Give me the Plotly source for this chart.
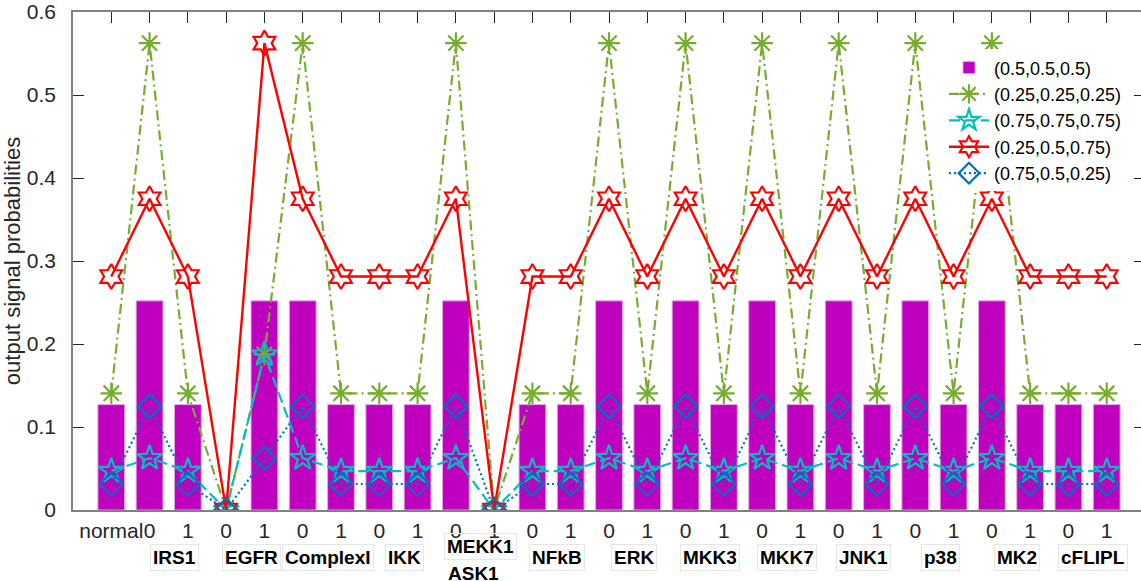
import plotly.graph_objects as go

# ---------------- data ----------------
groups = ["IRS1", "EGFR", "ComplexI", "IKK", "MEKK1<br>ASK1", "NFkB", "ERK",
          "MKK3", "MKK7", "JNK1", "p38", "MK2", "cFLIPL"]
tick_text = ["normal"] + ["0", "1"] * len(groups)
y_ticks = [0, 0.1, 0.2, 0.3, 0.4, 0.5, 0.6]
y_tick_text = ["0", "0.1", "0.2", "0.3", "0.4", "0.5", "0.6"]

bar_05 = [0.127, 0.252, 0.127, 0.0, 0.252, 0.252, 0.127, 0.127, 0.127, 0.252, 0.0,
          0.127, 0.127, 0.252, 0.127, 0.252, 0.127, 0.252, 0.127, 0.252, 0.127,
          0.252, 0.127, 0.252, 0.127, 0.127, 0.127]
s_025 = [0.1406, 0.5625, 0.1406, 0.0, 0.1875, 0.5625, 0.1406, 0.1406, 0.1406, 0.5625, 0.0,
         0.1406, 0.1406, 0.5625, 0.1406, 0.5625, 0.1406, 0.5625, 0.1406, 0.5625, 0.1406,
         0.5625, 0.1406, 0.5625, 0.1406, 0.1406, 0.1406]
s_075 = [0.0469, 0.0625, 0.0469, 0.0, 0.1875, 0.0625, 0.0469, 0.0469, 0.0469, 0.0625, 0.0,
         0.0469, 0.0469, 0.0625, 0.0469, 0.0625, 0.0469, 0.0625, 0.0469, 0.0625, 0.0469,
         0.0625, 0.0469, 0.0625, 0.0469, 0.0469, 0.0469]
s_mix1 = [0.2813, 0.375, 0.2813, 0.0, 0.5625, 0.375, 0.2813, 0.2813, 0.2813, 0.375, 0.0,
          0.2813, 0.2813, 0.375, 0.2813, 0.375, 0.2813, 0.375, 0.2813, 0.375, 0.2813,
          0.375, 0.2813, 0.375, 0.2813, 0.2813, 0.2813]
s_mix2 = [0.0313, 0.125, 0.0313, 0.0, 0.0625, 0.125, 0.0313, 0.0313, 0.0313, 0.125, 0.0,
          0.0313, 0.0313, 0.125, 0.0313, 0.125, 0.0313, 0.125, 0.0313, 0.125, 0.0313,
          0.125, 0.0313, 0.125, 0.0313, 0.0313, 0.0313]

names = ["(0.5,0.5,0.5)", "(0.25,0.25,0.25)", "(0.75,0.75,0.75)",
         "(0.25,0.5,0.75)", "(0.75,0.5,0.25)"]

pos = list(range(1, len(tick_text) + 1))

FONT = "Liberation Sans, Arial, sans-serif"
TXT = "#262626"

fig = go.Figure()
fig.add_trace(go.Bar(x=pos, y=bar_05, width=0.7, name=names[0],
                     marker=dict(color="#BF00BF", line=dict(color="#E6A6E6", width=1))))
fig.add_trace(go.Scatter(x=pos, y=s_025, mode="lines+markers", name=names[1],
                         line=dict(color="#77AC30", width=2.2, dash="10px,4px,2px,4px"),
                         marker=dict(symbol="asterisk-open", size=18,
                                     line=dict(color="#77AC30", width=2.2))))
fig.add_trace(go.Scatter(x=pos, y=s_075, mode="lines+markers", name=names[2],
                         line=dict(color="#00BFBF", width=2.2, dash="11px,5px"),
                         marker=dict(symbol="star-open", size=19, color="#00BFBF",
                                     line=dict(color="#00BFBF", width=2.2))))
fig.add_trace(go.Scatter(x=pos, y=s_mix1, mode="lines+markers", name=names[3],
                         line=dict(color="#FF0000", width=2.4),
                         marker=dict(symbol="hexagram-open", size=19, color="#FF0000",
                                     line=dict(color="#FF0000", width=2.2))))
fig.add_trace(go.Scatter(x=pos, y=s_mix2, mode="lines+markers", name=names[4],
                         line=dict(color="#0072BD", width=2.2, dash="2px,3px"),
                         marker=dict(symbol="diamond-open", size=18, color="#0072BD",
                                     line=dict(color="#0072BD", width=2.2))))

# group labels below the 0/1 tick labels
ann = []
for i, g in enumerate(groups):
    xc = pos[1 + 2 * i] + 0.5 + 0.15
    parts = g.split("<br>")
    if len(parts) == 1:
        ann.append(dict(x=xc, y=-0.095, xref="x", yref="paper", text="<b>%s</b>" % g,
                        showarrow=False, font=dict(family=FONT, size=19, color="black"),
                        bordercolor="#e6e6e6", borderwidth=1, borderpad=2,
                        yanchor="middle"))
    else:
        ann.append(dict(x=xc, y=-0.074, xref="x", yref="paper", text="<b>%s</b>" % parts[0],
                        showarrow=False, font=dict(family=FONT, size=19, color="black"),
                        bordercolor="#e6e6e6", borderwidth=1, borderpad=2,
                        yanchor="middle"))
        ann.append(dict(x=xc - 0.2, y=-0.128, xref="x", yref="paper", text="<b>%s</b>" % parts[1],
                        showarrow=False, font=dict(family=FONT, size=19, color="black"),
                        yanchor="middle"))

# the reference's right axis sits just outside the window, so the figure is a few px wider
fig.update_layout(
    width=1145, height=581,
    margin=dict(l=73, r=0, t=12, b=71, autoexpand=False),
    paper_bgcolor="white", plot_bgcolor="white",
    font=dict(family=FONT, color=TXT),
    showlegend=True,
    legend=dict(x=0.8125, y=0.925, xanchor="left", yanchor="top",
                bgcolor="white", borderwidth=0,
                font=dict(family=FONT, size=18, color="black"),
                itemwidth=40, tracegroupgap=0),
    annotations=ann,
    bargap=0.3,
)
fig.update_xaxes(range=[0, 28], tickmode="array", tickvals=pos, ticktext=tick_text,
                 tickangle=0, automargin=False, ticklabeloverflow="allow",
                 ticks="inside", ticklen=11, tickcolor=TXT, tickwidth=1,
                 showline=True, linecolor="#808080", linewidth=1.5, mirror="ticks",
                 showgrid=False, zeroline=False, layer="below traces",
                 tickfont=dict(family=FONT, size=21, color=TXT), ticklabelstandoff=1)
fig.update_yaxes(range=[0, 0.6], tickmode="array", tickvals=y_ticks, ticktext=y_tick_text,
                 automargin=False, ticklabeloverflow="allow",
                 ticks="inside", ticklen=11, tickcolor=TXT, tickwidth=1,
                 showline=True, linecolor="#808080", linewidth=1.5, mirror="ticks",
                 showgrid=False, zeroline=False, layer="below traces",
                 tickfont=dict(family=FONT, size=21, color=TXT), ticklabelstandoff=11,
                 title=dict(text="output signal probabilities", standoff=6,
                            font=dict(family=FONT, size=22, color=TXT)))

# remove the default 8px page margin so the figure fills the window exactly
fig.write_html("out.html", config={"displayModeBar": False},
               post_script="document.body.style.margin='0px';"
                           "document.body.style.overflow='hidden';")
